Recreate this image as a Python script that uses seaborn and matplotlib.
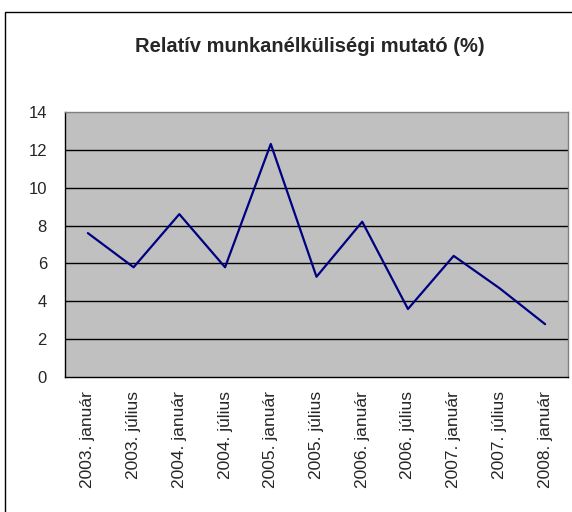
import numpy as np
import pandas as pd
import matplotlib
matplotlib.use("Agg")
import matplotlib.pyplot as plt
from matplotlib.patches import Rectangle
import seaborn as sns

PERIODS = ["2003. január", "2003. július", "2004. január", "2004. július",
           "2005. január", "2005. július", "2006. január", "2006. július",
           "2007. január", "2007. július", "2008. január"]
RATE = [7.6, 5.8, 8.6, 5.8, 12.3, 5.3, 8.2, 3.6, 6.4, 4.7, 2.8]
Y_TICKS = [0, 2, 4, 6, 8, 10, 12, 14]

TITLE = "Relatív munkanélküliségi mutató (%)"
LINE_COLOUR = "#000080"
PLOT_BG = "#C0C0C0"

sns.set_style("white")
plt.rcParams["font.family"] = ["Liberation Sans", "DejaVu Sans"]

df = pd.DataFrame({"pos": np.arange(len(PERIODS)), "rate": RATE})

fig = plt.figure(figsize=(5.72, 5.12), dpi=100)
# outer chart border (cropped on the right and bottom like the reference)
fig.patches.append(Rectangle((5 / 572, -0.05), 1.2, 1 - 12 / 512 + 0.05,
                             transform=fig.transFigure, fill=False,
                             edgecolor="black", linewidth=1.0))

ax = fig.add_axes([65 / 572, 1 - 377.3 / 512, 503 / 572, 265.6 / 512])
ax.set_facecolor(PLOT_BG)

sns.lineplot(data=df, x="pos", y="rate", ax=ax, color=LINE_COLOUR,
             linewidth=1.6, sort=False, legend=False)

ax.set_xlim(-0.5, len(PERIODS) - 0.5)
ax.set_ylim(0, 14)
ax.set_yticks(Y_TICKS)
ax.set_yticklabels([str(v) for v in Y_TICKS], fontsize=12)
for v in Y_TICKS[1:-1]:
    ax.axhline(v, color="black", linewidth=1.0, zorder=1)

# category labels at centres, tick marks between categories
ax.set_xticks(np.arange(len(PERIODS)))
ax.set_xticklabels(PERIODS, rotation=90, fontsize=12.5)
ax.set_xticks(np.arange(len(PERIODS) + 1) - 0.5, minor=True)
ax.tick_params(axis="x", which="major", length=0, pad=10)
ax.tick_params(axis="x", which="minor", length=5, width=1, color="black",
               direction="out")
ax.tick_params(axis="y", length=5, width=1, color="black", direction="out",
               pad=8)
ax.set_xlabel("")
ax.set_ylabel("")

for side in ["top", "right"]:
    ax.spines[side].set_color("#808080")
    ax.spines[side].set_linewidth(1.0)
for side in ["left", "bottom"]:
    ax.spines[side].set_color("black")
    ax.spines[side].set_linewidth(1.0)

fig.text(310 / 572, 1 - 47 / 512, TITLE, ha="center", va="center",
         fontsize=14.5, fontweight="bold")

fig.savefig("out.png", dpi=100)
